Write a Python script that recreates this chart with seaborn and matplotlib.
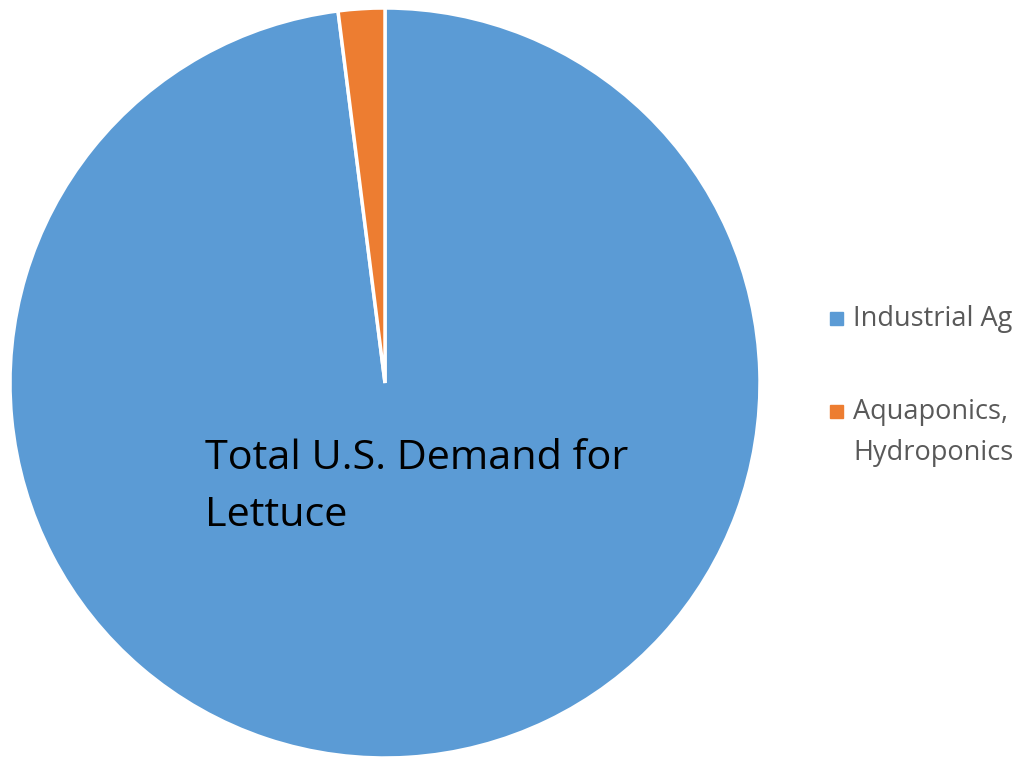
import matplotlib.pyplot as plt
import seaborn as sns
from matplotlib.patches import Rectangle

labels = ["Industrial Ag", "Aquaponics,\nHydroponics"]
shares = [98, 2]
colors = ["#5B9BD5", "#ED7D31"]

sns.set_theme(style="white")
plt.rcParams["font.family"] = ["Open Sans", "DejaVu Sans"]

W, H = 1020, 757
fig = plt.figure(figsize=(W / 100, H / 100), dpi=100)
ax = fig.add_axes([10 / W, -1 / H, 750 / W, 750 / H])
wedges, _ = ax.pie(shares, colors=colors, startangle=90, counterclock=False,
                   radius=1, wedgeprops=dict(edgecolor="white", linewidth=2.5))
ax.set_xlim(-1, 1)
ax.set_ylim(-1, 1)
ax.set_aspect("equal")
ax.axis("off")

ax.text(-0.48, -0.147, "Total U.S. Demand for\nLettuce", fontsize=29.8,
        ha="left", va="top", color="black", linespacing=1.55)

# legend: marker lines up with the first line of each label
for i, (lab, col) in enumerate(zip(labels, colors)):
    top = 305 + 93 * i
    fig.patches.append(Rectangle((830 / W, 1 - (top + 20) / H), 13 / W, 13 / H,
                                 transform=fig.transFigure, color=col))
    fig.text(853 / W, 1 - top / H, lab, fontsize=19.5, color="#595959",
             ha="left", va="top", linespacing=1.6)

plt.savefig("out.png", dpi=100)
plt.close()
